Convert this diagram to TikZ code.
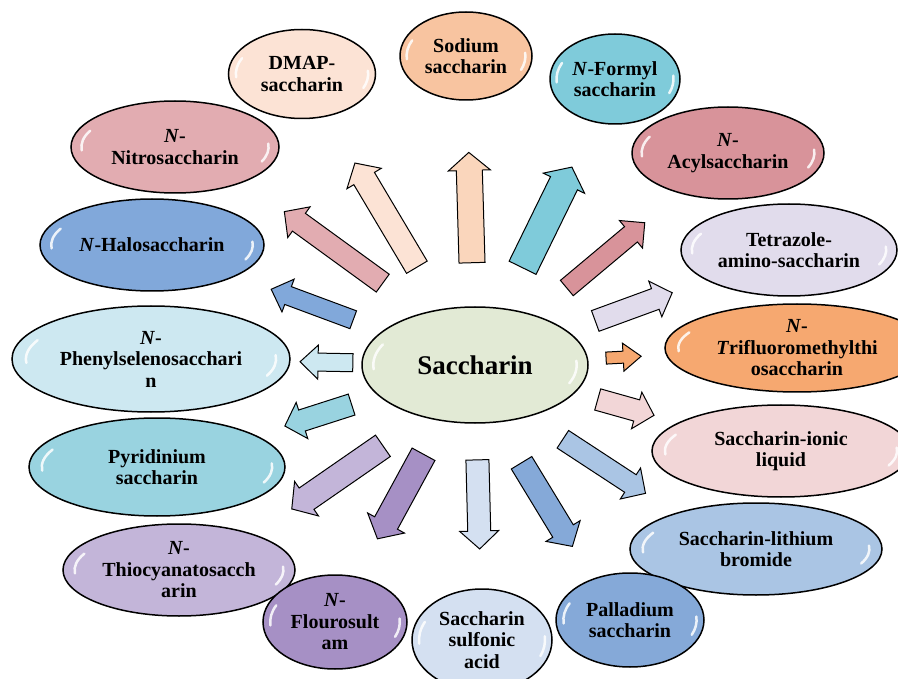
\documentclass[tikz,border=0pt]{standalone}
\usepackage{fontspec}
\setmainfont{Liberation Serif}
\usetikzlibrary{shapes.geometric,calc}

\definecolor{sacc}{HTML}{E2EAD5}
\definecolor{dmapc}{HTML}{FCE3D5}
\definecolor{sodc}{HTML}{F8C4A0}
\definecolor{sodarr}{HTML}{FAD6BC}
\definecolor{formc}{HTML}{7FCBDA}
\definecolor{acylc}{HTML}{D8939A}
\definecolor{tetrac}{HTML}{E1DCEC}
\definecolor{trifc}{HTML}{F6A870}
\definecolor{ionicc}{HTML}{F2D6D7}
\definecolor{lithc}{HTML}{AAC5E4}
\definecolor{pallc}{HTML}{85A9D8}
\definecolor{sulfc}{HTML}{D4E0F1}
\definecolor{flourc}{HTML}{A690C5}
\definecolor{thioc}{HTML}{C3B5D9}
\definecolor{pyrc}{HTML}{99D3E0}
\definecolor{phenc}{HTML}{CDE8F1}
\definecolor{haloc}{HTML}{81A8DA}
\definecolor{nitroc}{HTML}{E2ACB1}

% block arrow on the line from (sac) to #1:
% #2 tail, #3 tip (fractions), #4 side offset, #5 half shaft, #6 colour
\newcommand\spoke[6]{%
  \pgfmathsetmacro\spokehead{#5+8}
  \coordinate (#1-a) at ($(sac)!#2!(#1)!#4pt!-90:(#1)$);
  \coordinate (#1-b) at ($(sac)!#3!(#1)!#4pt!-90:(#1)$);
  \coordinate (#1-c) at ($(#1-b)!18pt!(#1-a)$);
  \filldraw[spoke, fill=#6] ($(#1-a)!#5pt!90:(#1-b)$) -- ($(#1-c)!#5pt!90:(#1-b)$)
    -- ($(#1-c)!\spokehead pt!90:(#1-b)$) -- (#1-b)
    -- ($(#1-c)!\spokehead pt!-90:(#1-b)$) -- ($(#1-c)!#5pt!-90:(#1-b)$)
    -- ($(#1-a)!#5pt!-90:(#1-b)$) -- cycle;
}

\begin{document}
\begin{tikzpicture}[x=1pt,y=-1pt]
\tikzset{glossy/.style={path picture={
  \draw[white, line width=2.5pt, line cap=round, opacity=.85]
    let \p1=($(path picture bounding box.north east)-(path picture bounding box.center)$) in
    ($(path picture bounding box.center)+({0.9*\x1*cos(155)},{0.84*\y1*sin(155)})$)
      arc[start angle=155, end angle=185, x radius=0.9*\x1, y radius=0.84*\y1]
    ($(path picture bounding box.center)+({0.9*\x1*cos(-22)},{0.84*\y1*sin(-22)})$)
      arc[start angle=-22, end angle=5, x radius=0.9*\x1, y radius=0.84*\y1];}}}
\tikzset{bubble/.style={ellipse, draw, line width=1.5pt, inner sep=0pt, align=center,
  font=\bfseries\fontsize{20}{21.5}\selectfont, glossy}}
\tikzset{spoke/.style={draw=black, line width=1pt, line join=miter}}

\useasboundingbox (0,0) rectangle (898,679);

\node[bubble, fill=sacc, minimum width=226pt, minimum height=116pt,
  font=\bfseries\fontsize{27}{30}\selectfont] (sac) at (475,365) {Saccharin};

% top half
\node[bubble, fill=dmapc, minimum width=147pt, minimum height=89pt] (dmap) at (302,74) {DMAP-\\saccharin};
\node[bubble, fill=sodc, minimum width=132pt, minimum height=88pt] (sod) at (466,56) {Sodium\\saccharin};
\node[bubble, fill=formc, minimum width=130pt, minimum height=90pt] (form) at (615,79) {\textit{N}-Formyl\\saccharin};
\node[bubble, fill=acylc, minimum width=192pt, minimum height=92pt] (acyl) at (728,153) {\textit{N}-\\Acylsaccharin};
\node[bubble, fill=tetrac, minimum width=216pt, minimum height=92pt] (tetra) at (789,250) {Tetrazole-\\amino-saccharin};
\node[bubble, fill=trifc, minimum width=264pt, minimum height=88pt] (trif) at (797,348) {\textit{N}-\\\textit{T}rifluoromethylthi\\osaccharin};
\node[bubble, fill=nitroc, minimum width=208pt, minimum height=92pt] (nitro) at (175,147) {\textit{N}-\\Nitrosaccharin};
\node[bubble, fill=haloc, minimum width=224pt, minimum height=92pt] (halo) at (152,245) {\textit{N}-Halosaccharin};
\node[bubble, fill=phenc, minimum width=278pt, minimum height=106pt] (phen) at (151,359) {\textit{N}-\\Phenylselenosacchari\\n};

% bottom half
\node[bubble, fill=ionicc, minimum width=258pt, minimum height=92pt] (ionic) at (781,451) {Saccharin-ionic\\liquid};
\node[bubble, fill=lithc, minimum width=252pt, minimum height=92pt] (lith) at (756,549) {Saccharin-lithium\\bromide};
\node[bubble, fill=pallc, minimum width=148pt, minimum height=94pt] (pall) at (630,620) {Palladium\\saccharin};
\node[bubble, fill=sulfc, minimum width=140pt, minimum height=102pt] (sulf) at (482,640) {Saccharin\\sulfonic\\acid};
\node[bubble, fill=pyrc, minimum width=256pt, minimum height=98pt] (pyr) at (157,467) {Pyridinium\\saccharin};
\node[bubble, fill=thioc, minimum width=232pt, minimum height=92pt] (thio) at (179,570) {\textit{N}-\\Thiocyanatosacch\\arin};
\node[bubble, fill=flourc, minimum width=144pt, minimum height=94pt] (flour) at (335,622) {\textit{N}-\\Flourosult\\am};

% arrows out of the centre
\spoke{dmap}{0.336}{0.694}{0}{12}{dmapc}
\spoke{sod}{0.331}{0.688}{0}{13}{sodarr}
\spoke{form}{0.34}{0.692}{0}{15}{formc}
\spoke{acyl}{0.363}{0.671}{0}{10}{acylc}
\spoke{tetra}{0.383}{0.628}{0}{11}{tetrac}
\spoke{trif}{0.407}{0.516}{0}{6}{trifc}
\spoke{ionic}{0.401}{0.585}{0}{11}{ionicc}
\spoke{lith}{0.34}{0.634}{14}{10.5}{lithc}
\spoke{pall}{0.361}{0.689}{11}{12}{pallc}
\spoke{sulf}{0.345}{0.669}{0}{11.5}{sulfc}
\spoke{flour}{0.352}{0.681}{2.5}{13}{flourc}
\spoke{thio}{0.338}{0.646}{-14}{13}{thioc}
\spoke{pyr}{0.388}{0.598}{0}{11}{pyrc}
\spoke{phen}{0.377}{0.54}{0}{9}{phenc}
\spoke{halo}{0.377}{0.631}{0}{9.5}{haloc}
\spoke{nitro}{0.331}{0.659}{12}{11}{nitroc}

\end{tikzpicture}
\end{document}
